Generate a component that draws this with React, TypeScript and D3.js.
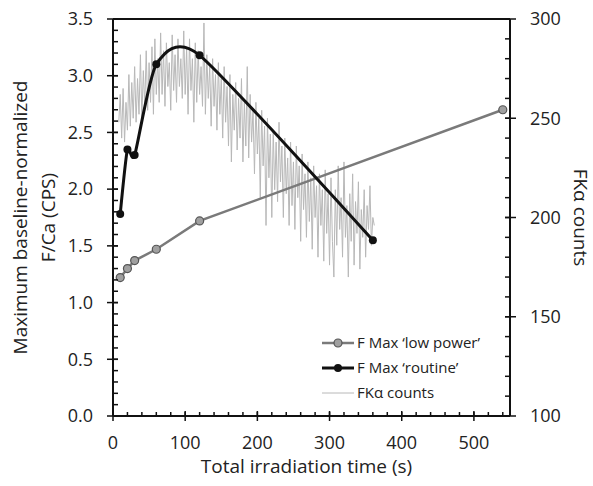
import * as React from 'react';
import * as d3 from 'd3';

// F Max 'low power' series
const timeLow = [10, 20, 30, 60, 120, 540];
const fLow = [1.22, 1.3, 1.37, 1.47, 1.72, 2.7];

// F Max 'routine' series
const timeRoutine = [10, 20, 30, 60, 120, 360];
const fRoutine = [1.78, 2.35, 2.3, 3.1, 3.18, 1.55];

// FKα counts, sampled every 2 s starting at 8 s
const countStart = 8;
const countStep = 2;
const counts = [
  248, 262, 240, 265, 238, 258, 244, 272, 246, 268,
  250, 276, 248, 270, 252, 282, 250, 274, 256, 284,
  254, 278, 258, 286, 252, 290, 262, 280, 258, 293,
  262, 284, 256, 288, 266, 278, 254, 292, 264, 282,
  258, 290, 266, 280, 260, 294, 262, 286, 252, 290,
  264, 280, 248, 288, 258, 284, 262, 276, 256, 298,
  252, 282, 260, 276, 246, 280, 256, 272, 244, 278,
  252, 270, 240, 276, 248, 266, 236, 272, 228, 262,
  244, 268, 234, 260, 240, 270, 228, 258, 236, 276,
  230, 262, 238, 254, 222, 258, 232, 250, 210, 254,
  226, 246, 196, 250, 220, 242, 200, 244, 214, 238,
  208, 248, 218, 236, 200, 240, 212, 230, 196, 238,
  206, 228, 194, 236, 210, 226, 188, 232, 204, 222,
  190, 228, 198, 220, 184, 226, 200, 216, 180, 222,
  196, 214, 178, 224, 192, 212, 176, 220, 188, 170,
  214, 186, 226, 194, 210, 180, 228, 190, 206, 170,
  212, 188, 222, 176, 208, 192, 218, 174, 204, 190,
  214, 180, 206, 194, 216, 186, 200, 196,
];

// axis ticks
const xTicks = [0, 100, 200, 300, 400, 500];
const yLeftTicks = [0, 0.5, 1, 1.5, 2, 2.5, 3, 3.5];
const yRightTicks = [100, 150, 200, 250, 300];

const legendLabels = ['F Max \u2018low power\u2019', 'F Max \u2018routine\u2019', 'FK\u03b1 counts'];
const rightTitle = 'FK\u03b1 counts';

const width = 593;
const height = 486;
const margin = { top: 19, right: 83, bottom: 70, left: 113 };
const font = '"Open Sans", sans-serif';

export default function App() {
  const x = d3.scaleLinear().domain([0, 550]).range([margin.left, width - margin.right]);
  const yL = d3.scaleLinear().domain([0, 3.5]).range([height - margin.bottom, margin.top]);
  const yR = d3.scaleLinear().domain([100, 300]).range([height - margin.bottom, margin.top]);

  const x0 = margin.left;
  const x1 = width - margin.right;
  const yb = height - margin.bottom;
  const yt = margin.top;

  const lowPts = timeLow.map((t, i) => [x(t), yL(fLow[i])] as [number, number]);
  const routinePts = timeRoutine.map((t, i) => [x(t), yL(fRoutine[i])] as [number, number]);
  const countPts = counts.map((c, i) => [x(countStart + i * countStep), yR(c)] as [number, number]);

  const straight = d3.line();
  // smoothed line, a bit tighter than plain Catmull-Rom
  const smooth = d3.line().curve(d3.curveCardinal.tension(0.35));

  const xMinor = d3.range(0, 551, 20);
  const yLMinor = d3.range(0, 36).map((d) => d / 10);
  const yRMinor = d3.range(100, 301, 10);

  const legendX = 322;
  const legendY = [343, 368, 393];

  return (
    <svg width={width} height={height} style={{ position: 'absolute', left: 0, top: 0, background: '#fff' }} fontFamily={font}>
      {/* FKα counts */}
      <path d={straight(countPts) || ''} fill="none" stroke="#b8b8b8" strokeWidth={1} />

      {/* low power */}
      <path d={straight(lowPts) || ''} fill="none" stroke="#7a7a7a" strokeWidth={2.5} />
      {lowPts.map((p, i) => (
        <circle key={'l' + i} cx={p[0]} cy={p[1]} r={4} fill="#a0a0a0" stroke="#555" strokeWidth={1.2} />
      ))}

      {/* routine */}
      <path d={smooth(routinePts) || ''} fill="none" stroke="#111" strokeWidth={3} />
      {routinePts.map((p, i) => (
        <circle key={'r' + i} cx={p[0]} cy={p[1]} r={4} fill="#111" />
      ))}

      {/* frame */}
      <line x1={x0} x2={x1} y1={yt} y2={yt} stroke="#111" strokeWidth={2} />
      <line x1={x0} x2={x0} y1={yt} y2={yb} stroke="#111" strokeWidth={2} />
      <line x1={x1} x2={x1} y1={yt} y2={yb} stroke="#111" strokeWidth={2} />
      <line x1={x0} x2={x1} y1={yb} y2={yb} stroke="#111" strokeWidth={2} />

      {/* bottom axis */}
      {xMinor.map((t) => (
        <line key={'xm' + t} x1={x(t)} x2={x(t)} y1={yb} y2={yb - 4} stroke="#111" strokeWidth={1.5} />
      ))}
      {xTicks.map((t) => (
        <g key={'x' + t}>
          <line x1={x(t)} x2={x(t)} y1={yb - 5} y2={yb + 5} stroke="#111" strokeWidth={1.5} />
          <text x={x(t)} y={yb + 33} textAnchor="middle" fontSize={18} fill="#222">{t}</text>
        </g>
      ))}
      <text x={(x0 + x1) / 2 - 5} y={yb + 57} textAnchor="middle" fontSize={19} fill="#222">Total irradiation time (s)</text>

      {/* left axis */}
      {yLMinor.map((v) => (
        <line key={'ylm' + v} x1={x0} x2={x0 + 5} y1={yL(v)} y2={yL(v)} stroke="#111" strokeWidth={1.5} />
      ))}
      {yLeftTicks.map((v) => (
        <g key={'yl' + v}>
          <line x1={x0 - 6} x2={x0 + 5} y1={yL(v)} y2={yL(v)} stroke="#111" strokeWidth={1.5} />
          <text x={x0 - 20} y={yL(v)} dy="0.35em" textAnchor="end" fontSize={18} fill="#222">{v.toFixed(1)}</text>
        </g>
      ))}
      <text transform={`translate(27,${(yt + yb) / 2}) rotate(-90)`} textAnchor="middle" fontSize={19} fill="#222">
        <tspan x={0} dy="0">Maximum baseline-normalized</tspan>
        <tspan x={0} dy="1.45em">F/Ca (CPS)</tspan>
      </text>

      {/* right axis */}
      {yRMinor.map((v) => (
        <line key={'yrm' + v} x1={x1 - 5} x2={x1} y1={yR(v)} y2={yR(v)} stroke="#111" strokeWidth={1.5} />
      ))}
      {yRightTicks.map((v) => (
        <g key={'yr' + v}>
          <line x1={x1 - 5} x2={x1 + 6} y1={yR(v)} y2={yR(v)} stroke="#111" strokeWidth={1.5} />
          <text x={x1 + 20} y={yR(v)} dy="0.35em" textAnchor="start" fontSize={18} fill="#222">{v}</text>
        </g>
      ))}
      <text transform={`translate(574,${(yt + yb) / 2}) rotate(90)`} textAnchor="middle" fontSize={19} fill="#222">{rightTitle}</text>

      {/* legend */}
      <line x1={legendX} x2={legendX + 32} y1={legendY[0]} y2={legendY[0]} stroke="#7a7a7a" strokeWidth={2.5} />
      <circle cx={legendX + 16} cy={legendY[0]} r={4} fill="#a0a0a0" stroke="#555" strokeWidth={1.2} />
      <line x1={legendX} x2={legendX + 32} y1={legendY[1]} y2={legendY[1]} stroke="#111" strokeWidth={3} />
      <circle cx={legendX + 16} cy={legendY[1]} r={4} fill="#111" />
      <line x1={legendX} x2={legendX + 32} y1={legendY[2]} y2={legendY[2]} stroke="#b8b8b8" strokeWidth={1} />
      {legendLabels.map((l, i) => (
        <text key={l} x={legendX + 35} y={legendY[i]} dy="0.35em" fontSize={15} fill="#222">{l}</text>
      ))}
    </svg>
  );
}
